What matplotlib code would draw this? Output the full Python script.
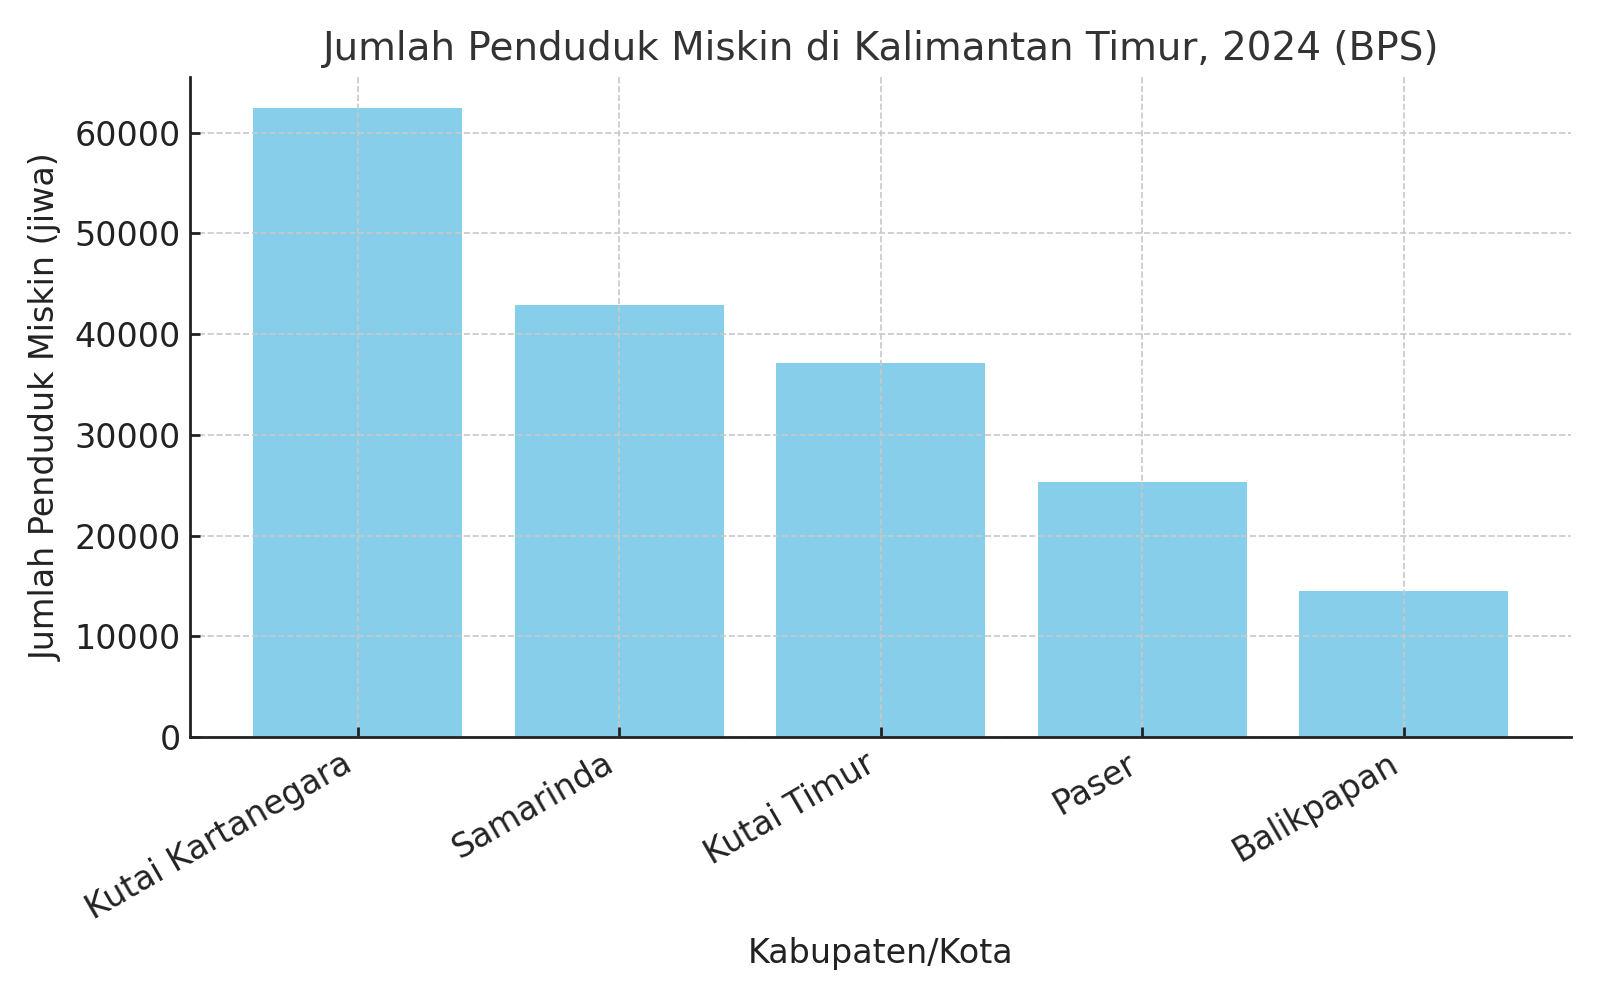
import matplotlib
matplotlib.use("Agg")
import matplotlib.pyplot as plt

# Data: poor population per regency/city, East Kalimantan 2024 (BPS)
regions = ["Kutai Kartanegara", "Samarinda", "Kutai Timur", "Paser", "Balikpapan"]
poor_population = [62400, 42900, 37150, 25300, 14450]

plt.rcParams['font.family'] = ['DejaVu Sans']

fig, ax = plt.subplots(figsize=(8, 5), dpi=200)
ax.bar(regions, poor_population, color="skyblue", width=0.8, zorder=1)

ax.set_title("Jumlah Penduduk Miskin di Kalimantan Timur, 2024 (BPS)", fontsize=14, color="#333333")
ax.set_xlabel("Kabupaten/Kota", fontsize=12, color="#222222")
ax.set_ylabel("Jumlah Penduduk Miskin (jiwa)", fontsize=12, color="#222222")
ax.tick_params(axis="both", labelsize=12, colors="#222222", direction="in", length=3.5, width=1)
plt.setp(ax.get_xticklabels(), rotation=30, ha="right")

ax.grid(True, linestyle="--", color="#c8c8c8", linewidth=0.6, zorder=2)
ax.set_axisbelow(False)
for side in ["top", "right"]:
    ax.spines[side].set_visible(False)
for side in ["left", "bottom"]:
    ax.spines[side].set_color("#222222")
    ax.spines[side].set_linewidth(1.0)
    ax.spines[side].set_zorder(3)

fig.subplots_adjust(left=0.119, right=0.982, top=0.923, bottom=0.263)
plt.savefig("out.png")
plt.close()
